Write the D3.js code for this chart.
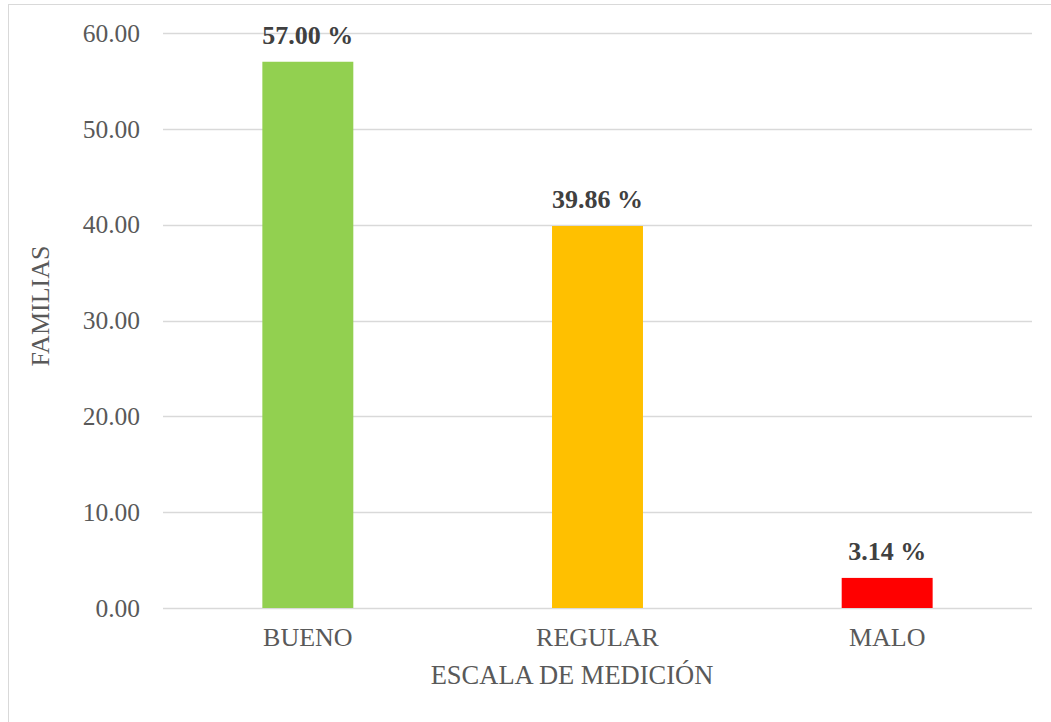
<!DOCTYPE html>
<html>
<head>
<meta charset="utf-8">
<script src="https://cdn.jsdelivr.net/npm/d3@7"></script>
<style>
  body { margin: 0; background: #fff; }
  text { font-family: "Liberation Serif", "Times New Roman", serif; }
</style>
</head>
<body>
<div id="chart"></div>
<script>
// datos del grafico
const categorias = ["BUENO", "REGULAR", "MALO"]
const valores = [57.00, 39.86, 3.14]
const colores = ["#92D050", "#FFC000", "#FF0000"]
const ticksY = [0, 10, 20, 30, 40, 50, 60]

const dims = {
    width: 1051,
    height: 722,
    margin: { top: 33, right: 19, bottom: 114, left: 163 }
}
dims.boundedWidth = dims.width - dims.margin.left - dims.margin.right
dims.boundedHeight = dims.height - dims.margin.top - dims.margin.bottom

const svg = d3.select("#chart")
    .append("svg")
        .attr("width", dims.width)
        .attr("height", dims.height)

// marco del area del grafico
svg.append("rect")
    .attr("x", 8.5).attr("y", 4.5)
    .attr("width", 1100).attr("height", 800)
    .attr("fill", "none")
    .attr("stroke", "#D9D9D9")
    .attr("stroke-width", 1)

const g = svg.append("g")
    .attr("transform", `translate(${dims.margin.left},${dims.margin.top})`)

const xScale = d3.scaleBand()
    .domain(categorias)
    .range([0, dims.boundedWidth])

const yScale = d3.scaleLinear()
    .domain([0, 60])
    .range([dims.boundedHeight, 0])

// lineas de cuadricula
g.append("g")
    .selectAll("line")
    .data(ticksY)
    .join("line")
        .attr("x1", 0)
        .attr("x2", dims.boundedWidth)
        .attr("y1", d => Math.round(yScale(d)) + 0.5)
        .attr("y2", d => Math.round(yScale(d)) + 0.5)
        .attr("stroke", "#D9D9D9")
        .attr("stroke-width", 1.5)

const yAxis = g.append("g")
    .call(d3.axisLeft(yScale).tickValues(ticksY).tickFormat(d3.format(".2f")).tickSize(0).tickPadding(23))
yAxis.select(".domain").remove()
yAxis.selectAll("text")
    .attr("fill", "#595959")
    .style("font-size", "25.5px")

const xAxis = g.append("g")
    .attr("transform", `translate(0,${dims.boundedHeight})`)
    .call(d3.axisBottom(xScale).tickSize(0).tickPadding(20))
xAxis.select(".domain").remove()
xAxis.selectAll("text")
    .attr("fill", "#595959")
    .style("font-size", "26px")

const barW = xScale.bandwidth() * 0.314

g.selectAll(".barra")
    .data(valores)
    .join("rect")
        .attr("class", "barra")
        .attr("x", (d, i) => xScale(categorias[i]) + xScale.bandwidth() / 2 - barW / 2)
        .attr("y", d => yScale(d))
        .attr("width", barW)
        .attr("height", d => dims.boundedHeight - yScale(d))
        .attr("fill", (d, i) => colores[i])

g.selectAll(".etiqueta")
    .data(valores)
    .join("text")
        .attr("class", "etiqueta")
        .attr("x", (d, i) => xScale(categorias[i]) + xScale.bandwidth() / 2)
        .attr("y", d => yScale(d) - 18)
        .attr("text-anchor", "middle")
        .attr("fill", "#404040")
        .style("font-size", "26px")
        .style("font-weight", "bold")
        .text(d => d3.format(".2f")(d) + " %")

// titulos de ejes
svg.append("text")
    .attr("x", 572)
    .attr("y", 684)
    .attr("text-anchor", "middle")
    .attr("fill", "#595959")
    .style("font-size", "26.5px")
    .text("ESCALA DE MEDICIÓN")

svg.append("text")
    .attr("transform", "translate(49,306) rotate(-90)")
    .attr("text-anchor", "middle")
    .attr("fill", "#595959")
    .style("font-size", "26px")
    .text("FAMILIAS")
</script>
</body>
</html>
